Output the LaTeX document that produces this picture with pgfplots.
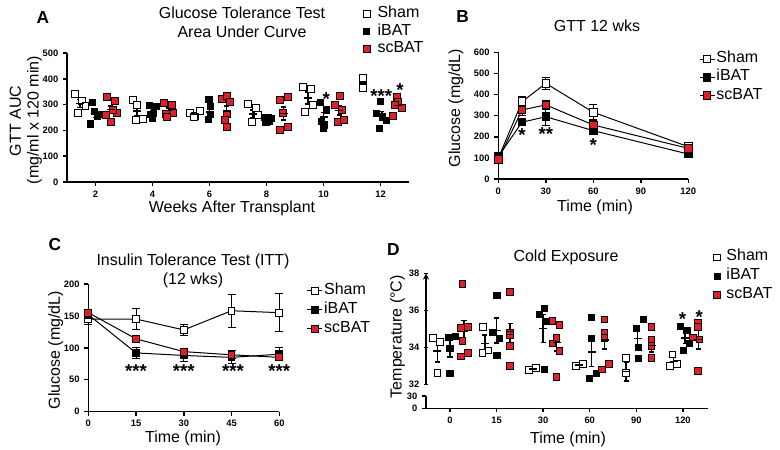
\documentclass[border=0pt]{standalone}
\usepackage{pgfplots}
\pgfplotsset{compat=1.18}
\usepackage{fontspec}
\setmainfont{Liberation Sans}
\definecolor{gpred}{RGB}{226,31,38}
\newcommand{\tf}{\fontsize{12}{15}\selectfont}
\newcommand{\lf}{\bfseries\fontsize{13}{13}\selectfont}
\newcommand{\starf}{\bfseries\fontsize{14}{14}\selectfont}
\pgfplotsset{
  gp/.style={
    scale only axis, clip=false,
    axis lines=left,
    axis line style={-, line width=1.1pt},
    tick style={line width=1.1pt, black},
    tick align=outside, major tick length=3pt,
    tick label style={font=\bfseries\fontsize{7}{8}\selectfont},
    /pgf/number format/assume math mode=true,
    legend cell align=left,
    legend style={draw=none, fill=none, font=\tf, inner sep=0pt, row sep=0pt},
  },
  shamm/.style={mark=square*, mark options={fill=white, draw=black, line width=0.75pt}},
  ibatm/.style={mark=square*, mark options={fill=black, draw=black, line width=0.75pt}},
  scbatm/.style={mark=square*, mark options={fill=gpred, draw=black, line width=0.75pt}},
  meanbar/.style={forget plot, only marks, mark=-, mark size=3pt, mark options={line width=1.1pt, black},
     error bars/y dir=both, error bars/y explicit,
     error bars/error bar style={line width=1.1pt, black},
     error bars/error mark options={rotate=90, mark size=1.9pt, line width=1.1pt, black}},
  lineerr/.style={black, line width=0.75pt,
     error bars/y dir=both, error bars/y explicit,
     error bars/error bar style={line width=0.75pt, black},
     error bars/error mark options={rotate=90, mark size=3pt, line width=0.75pt, black}},
}
% ---------- Panel A data ----------
\pgfplotstableread{
x y
1.27 340
1.37 267
1.52 315
1.65 296
3.30 318
3.45 300
3.42 240
3.66 243
5.32 269
5.49 256
5.67 276
5.45 253
7.35 302
7.62 286
7.48 234
7.70 260
9.29 369
9.56 359
9.35 272
9.64 298
11.40 402
11.40 363
}\Ashampts
\pgfplotstableread{
x y
1.88 307
1.83 225
1.97 272
2.06 253
2.12 262
3.89 298
3.92 260
4.05 266
4.15 292
4.00 247
5.98 321
6.02 292
5.95 243
6.02 260
7.92 250
8.02 240
8.10 236
8.18 245
7.98 232
8.08 248
9.88 307
10.11 279
9.94 234
10.05 221
10.00 208
12.00 311
11.87 266
12.08 253
12.20 240
11.95 208
}\Aibatpts
\pgfplotstableread{
x y
2.39 331
2.68 314
2.38 260
2.74 267
2.53 232
2.60 278
4.40 305
4.67 298
4.47 264
4.73 269
4.52 251
6.43 320
6.60 333
6.72 311
6.60 264
6.55 240
6.60 214
8.47 318
8.74 331
8.58 266
8.47 201
8.74 214
10.58 333
10.40 298
10.66 279
10.52 234
10.73 240
12.57 328
12.62 311
12.74 285
12.50 298
12.45 256
}\Ascbatpts
\pgfplotstableread{
x y e
1.45 304 15
3.45 275 19
5.48 263 6
7.52 264 15
9.45 325 23
11.40 383 20
}\Ashammean
\pgfplotstableread{
x y e
2.00 264 13
4.02 272 10
6.00 272 16
8.05 242 4
10.00 252 17
12.05 256 17
}\Aibatmean
\pgfplotstableread{
x y e
2.53 280 14
4.56 277 10
6.60 276 18
8.60 266 25
10.56 277 18
12.60 296 12
}\Ascbatmean
% ---------- Panel B data ----------
\pgfplotstableread{
x y e
0 98 10
15 366 24
30 453 30
60 316 39
120 153 10
}\Bsham
\pgfplotstableread{
x y e
0 106 8
15 269 15
30 295 40
60 229 15
120 118 8
}\Bibat
\pgfplotstableread{
x y e
0 92 8
15 327 25
30 351 20
60 256 25
120 145 8
}\Bscbat
% ---------- Panel C data ----------
\pgfplotstableread{
x y e
0 145 8
15 145 17
30 128 8
45 158 26
60 155 30
}\Csham
\pgfplotstableread{
x y e
0 152 8
15 92 9
30 88 9
45 85 10
60 90 10
}\Cibat
\pgfplotstableread{
x y e
0 155 5
15 114 4
30 94 4
45 89 6
60 85 5
}\Cscbat
% ---------- Panel D data ----------
\pgfplotstableread{
x y
-0.37 34.49
-0.21 34.30
-0.27 32.60
0.70 33.71
0.71 35.11
0.83 33.82
1.70 32.77
1.85 32.90
2.71 32.99
2.85 33.10
3.78 33.41
3.78 32.63
4.73 32.99
4.88 33.10
4.78 33.62
}\Dshampts
\pgfplotstableread{
x y
-0.04 34.52
0.11 34.60
0.00 33.95
0.00 32.60
1.01 36.79
0.92 34.79
1.06 34.49
1.01 33.58
1.92 35.78
2.02 36.10
2.08 35.38
2.02 32.81
3.03 35.62
3.03 34.49
3.14 32.60
3.00 32.32
4.00 35.03
4.15 35.51
4.05 34.00
4.05 33.41
4.95 35.11
5.09 34.90
5.15 34.20
5.01 33.82
}\Dibatpts
\pgfplotstableread{
x y
0.27 37.42
0.23 35.03
0.39 35.10
0.27 34.35
0.23 33.50
0.39 33.70
1.29 37.00
1.29 34.76
1.29 34.65
1.29 34.09
1.29 32.99
2.20 35.42
2.35 35.20
2.29 34.49
2.20 34.20
2.35 33.80
2.29 32.41
3.32 35.51
3.32 34.79
3.32 34.50
3.26 32.81
3.41 33.10
4.33 35.11
4.33 34.43
4.33 34.09
4.33 33.41
5.22 34.54
5.33 35.33
5.33 35.10
5.36 34.43
5.33 32.72
}\Dscbatpts
\pgfplotstableread{
x y e
-0.27 33.80 0.60
0.75 34.21 0.45
1.78 32.84 0.07
2.78 33.05 0.06
3.78 32.68 0.50
4.80 33.24 0.20
}\Dshammean
\pgfplotstableread{
x y e
0.00 33.92 0.45
1.00 34.91 0.68
2.00 35.02 0.75
3.04 33.76 0.80
4.03 34.49 0.50
5.05 34.50 0.30
}\Dibatmean
\pgfplotstableread{
x y e
0.30 34.85 0.60
1.29 34.70 0.60
2.29 34.25 0.45
3.32 34.40 0.50
4.33 34.10 0.35
5.33 34.42 0.50
}\Dscbatmean
\begin{document}
\begin{tikzpicture}
\useasboundingbox (0,0) rectangle (585pt,336.75pt);
% ================= Panel A =================
\begin{axis}[gp, at={(50.25pt,200.25pt)}, anchor=south west,
  width=256.5pt, height=96.75pt, xmin=1, xmax=13, ymin=0, ymax=500,
  xtick={2,4,6,8,10,12}, ytick={0,100,...,500},
  legend style={at={(0.8655,1.373)}, anchor=north west,
    nodes={inner sep=1pt, text height=8.6pt, text depth=2.5pt}},
  legend image code/.code={\draw[mark repeat=2,mark phase=2,#1] plot coordinates {(0pt,0pt)(3pt,0pt)(6pt,0pt)};},
]
\addplot[only marks, shamm, mark size=2.6pt] table {\Ashampts};
\addlegendentry{\hspace*{4.5pt}Sham}
\addplot[only marks, ibatm, mark size=2.3pt] table {\Aibatpts};
\addlegendentry{\hspace*{4.5pt}iBAT}
\addplot[only marks, scbatm, mark size=2.6pt] table {\Ascbatpts};
\addlegendentry{\hspace*{4.5pt}scBAT}
\addplot[meanbar] table[x index=0, y index=1, y error index=2] {\Ashammean};
\addplot[meanbar] table[x index=0, y index=1, y error index=2] {\Aibatmean};
\addplot[meanbar] table[x index=0, y index=1, y error index=2] {\Ascbatmean};
\node[font=\starf] at (axis cs:10.1,323) {*};
\node[font=\starf] at (axis cs:12.03,334) {***};
\node[font=\starf] at (axis cs:12.68,355) {*};
\end{axis}
% ================= Panel B =================
\begin{axis}[gp, at={(373.7pt,202.5pt)}, anchor=south west,
  width=142.5pt, height=95pt, xmin=0, xmax=120, ymin=0, ymax=600,
  xtick={0,30,60,90,120}, ytick={0,100,...,600},
  legend style={at={(1.056,1.021)}, anchor=north west,
    nodes={inner sep=1pt, text height=8.6pt, text depth=3.1pt}},
  legend image code/.code={\draw[mark repeat=2,mark phase=2,#1] plot coordinates {(0pt,0pt)(5.6pt,0pt)(11.2pt,0pt)};},
]
\addplot[lineerr, shamm, mark size=2.8pt] table[x index=0, y index=1, y error index=2] {\Bsham};
\addlegendentry{Sham}
\addplot[lineerr, ibatm, mark size=2.8pt] table[x index=0, y index=1, y error index=2] {\Bibat};
\addlegendentry{iBAT}
\addplot[lineerr, scbatm, mark size=2.8pt] table[x index=0, y index=1, y error index=2] {\Bscbat};
\addlegendentry{scBAT}
\node[font=\starf] at (axis cs:15,206) {*};
\node[font=\starf] at (axis cs:30,214) {**};
\node[font=\starf] at (axis cs:60,160) {*};
\end{axis}
% ================= Panel C =================
\begin{axis}[gp, at={(66.2pt,28.0pt)}, anchor=south west,
  width=143.25pt, height=95.8pt, xmin=0, xmax=60, ymin=0, ymax=200,
  xtick={0,15,30,45,60}, ytick={0,50,...,200},
  legend style={at={(1.143,1.022)}, anchor=north west,
    nodes={inner sep=1pt, text height=8.6pt, text depth=3.6pt}},
  legend image code/.code={\draw[mark repeat=2,mark phase=2,#1] plot coordinates {(0pt,0pt)(5.6pt,0pt)(11.2pt,0pt)};},
]
\addplot[lineerr, shamm, mark size=2.6pt] table[x index=0, y index=1, y error index=2] {\Csham};
\addlegendentry{Sham}
\addplot[lineerr, ibatm, mark size=2.6pt] table[x index=0, y index=1, y error index=2] {\Cibat};
\addlegendentry{iBAT}
\addplot[lineerr, scbatm, mark size=2.6pt] table[x index=0, y index=1, y error index=2] {\Cscbat};
\addlegendentry{scBAT}
\node[font=\starf] at (axis cs:15,64) {***};
\node[font=\starf] at (axis cs:30,64) {***};
\node[font=\starf] at (axis cs:45.5,64) {***};
\node[font=\starf] at (axis cs:60,64) {***};
\end{axis}
% ================= Panel D (upper part) =================
\begin{axis}[gp, at={(319.5pt,48.5pt)}, anchor=south west,
  width=211.5pt, height=83.25pt, xmin=-0.515, xmax=5.54, ymin=32, ymax=38,
  axis x line=none, axis y line=left, ytick={32,34,36,38},
  legend style={at={(1.0195,1.229)}, anchor=north west,
    nodes={inner sep=1pt, text height=8.6pt, text depth=3.5pt}},
  legend image code/.code={\draw[mark repeat=2,mark phase=2,#1] plot coordinates {(0pt,0pt)(3pt,0pt)(6pt,0pt)};},
]
\addplot[only marks, shamm, mark size=2.5pt] table {\Dshampts};
\addlegendentry{\hspace*{3.5pt}Sham}
\addplot[only marks, ibatm, mark size=2.3pt] table {\Dibatpts};
\addlegendentry{\hspace*{3.5pt}iBAT}
\addplot[only marks, scbatm, mark size=2.5pt] table {\Dscbatpts};
\addlegendentry{\hspace*{3.5pt}scBAT}
\addplot[meanbar] table[x index=0, y index=1, y error index=2] {\Dshammean};
\addplot[meanbar] table[x index=0, y index=1, y error index=2] {\Dibatmean};
\addplot[meanbar] table[x index=0, y index=1, y error index=2] {\Dscbatmean};
\node[font=\starf] at (axis cs:4.99,35.55) {*};
\node[font=\starf] at (axis cs:5.35,35.64) {*};
\end{axis}
% ================= Panel D (lower part) =================
\begin{axis}[gp, at={(319.5pt,30.4pt)}, anchor=south west,
  width=211.5pt, height=9.4pt, xmin=-0.515, xmax=5.54, ymin=0, ymax=30,
  ytick={0,30}, xtick={0,1,2,3,4,5}, xticklabels={0,15,30,60,90,120},
]
\addplot[draw=none, forget plot] coordinates {(0,0)};
\end{axis}
% ================= Texts =================
\begin{scope}[x=0.75pt, y=-0.75pt, yshift=336.75pt]
\node[font=\lf, anchor=base] at (43,24) {A};
\node[font=\tf, anchor=base] at (242,18.3) {Glucose Tolerance Test};
\node[font=\tf, anchor=base] at (242,37.3) {Area Under Curve};
\node[font=\tf, anchor=base] at (232,212.5) {Weeks After Transplant};
\node[font=\tf, anchor=base, rotate=90] at (21,121) {GTT AUC};
\node[font=\tf, anchor=base, rotate=90] at (38.5,120) {(mg/ml x 120 min)};
\node[font=\lf, anchor=base] at (462.7,23) {B};
\node[font=\tf, anchor=base] at (597,31.7) {GTT 12 wks};
\node[font=\tf, anchor=base] at (595,211.5) {Time (min)};
\node[font=\tf, anchor=base, rotate=90] at (460,108.3) {Glucose (mg/dL)};
\node[font=\lf, anchor=base] at (55,251) {C};
\node[font=\tf, anchor=base] at (193,266) {Insulin Tolerance Test (ITT)};
\node[font=\tf, anchor=base] at (193,285) {(12 wks)};
\node[font=\tf, anchor=base] at (183,442.5) {Time (min)};
\node[font=\tf, anchor=base, rotate=90] at (59.8,350) {Glucose (mg/dL)};
\node[font=\lf, anchor=base] at (393.3,256) {D};
\node[font=\tf, anchor=base] at (566,261.7) {Cold Exposure};
\node[font=\tf, anchor=base] at (568,443.3) {Time (min)};
\node[font=\tf, anchor=base, rotate=90] at (401.5,336.7) {Temperature (°C)};
\end{scope}
\end{tikzpicture}
\end{document}
